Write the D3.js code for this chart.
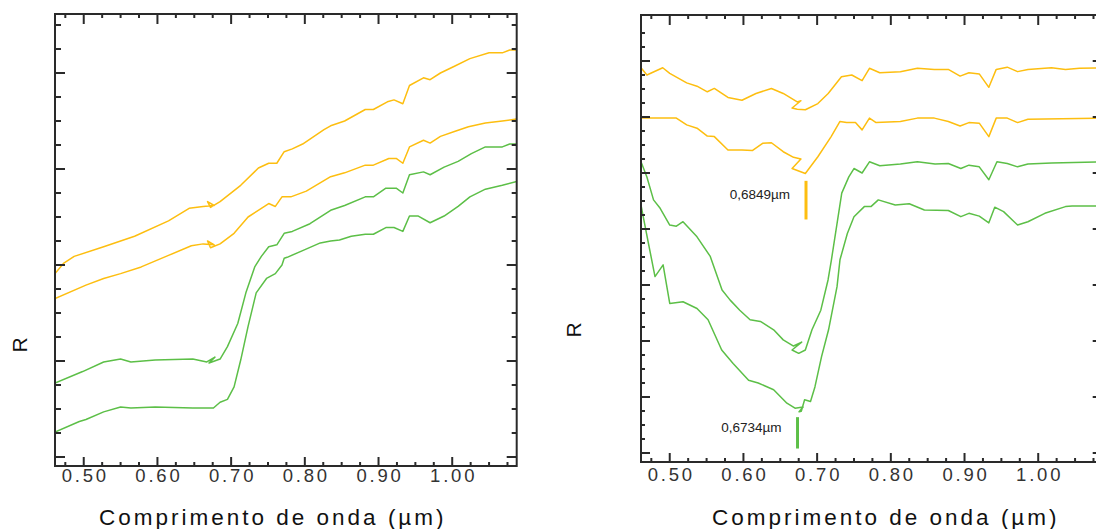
<!DOCTYPE html>
<html><head><meta charset="utf-8">
<script src="https://cdn.jsdelivr.net/npm/d3@7"></script>
<style>
html,body{margin:0;padding:0;background:#fff;}
text{font-family:"Liberation Sans",Arial,Helvetica,sans-serif;}
</style></head>
<body><div id="chart"></div>
<script>
// ---------- data ----------
const xMajorTicks = [0.50, 0.60, 0.70, 0.80, 0.90, 1.00];
const xTickLabels = ["0.50", "0.60", "0.70", "0.80", "0.90", "1.00"];
const xTitle = "Comprimento de onda (\u00B5m)";
const yTitle = "R";

// left panel: reflectance spectra [wavelength (µm), R]
const leftYellow1 = [[0.461,0.291],[0.473,0.302],[0.487,0.309],[0.527,0.319],[0.569,0.330],[0.615,0.346],[0.643,0.359],[0.662,0.361],[0.677,0.362],[0.668,0.366],[0.672,0.360],[0.685,0.366],[0.713,0.383],[0.737,0.401],[0.751,0.406],[0.762,0.406],[0.772,0.418],[0.783,0.421],[0.797,0.426],[0.826,0.441],[0.835,0.445],[0.854,0.450],[0.882,0.462],[0.893,0.462],[0.912,0.470],[0.921,0.472],[0.933,0.468],[0.942,0.487],[0.961,0.495],[0.970,0.493],[0.984,0.500],[1.003,0.507],[1.024,0.515],[1.050,0.521],[1.068,0.521],[1.078,0.524],[1.0875,0.524]];
const leftYellow2 = [[0.461,0.265],[0.503,0.279],[0.527,0.286],[0.550,0.291],[0.578,0.298],[0.615,0.310],[0.646,0.320],[0.662,0.322],[0.677,0.321],[0.668,0.325],[0.672,0.318],[0.685,0.322],[0.704,0.333],[0.723,0.350],[0.751,0.364],[0.760,0.361],[0.769,0.371],[0.781,0.371],[0.802,0.377],[0.835,0.392],[0.854,0.396],[0.882,0.404],[0.893,0.404],[0.914,0.411],[0.924,0.411],[0.933,0.406],[0.942,0.423],[0.961,0.430],[0.970,0.427],[0.984,0.434],[1.003,0.439],[1.022,0.444],[1.045,0.448],[1.068,0.450],[1.0875,0.452]];
const leftGreen1 = [[0.461,0.177],[0.4985,0.189],[0.527,0.199],[0.550,0.202],[0.564,0.199],[0.597,0.201],[0.648,0.202],[0.667,0.199],[0.678,0.204],[0.670,0.198],[0.685,0.202],[0.695,0.215],[0.709,0.239],[0.720,0.271],[0.732,0.298],[0.741,0.309],[0.751,0.319],[0.762,0.321],[0.772,0.333],[0.783,0.335],[0.807,0.343],[0.835,0.357],[0.854,0.362],[0.882,0.371],[0.893,0.371],[0.910,0.380],[0.924,0.380],[0.933,0.375],[0.942,0.394],[0.961,0.397],[0.970,0.394],[0.989,0.402],[1.008,0.408],[1.026,0.416],[1.045,0.423],[1.068,0.423],[1.078,0.426],[1.0875,0.426]];
const leftGreen2 = [[0.461,0.126],[0.494,0.137],[0.503,0.139],[0.527,0.147],[0.550,0.152],[0.564,0.151],[0.597,0.152],[0.648,0.151],[0.676,0.151],[0.685,0.157],[0.695,0.160],[0.704,0.173],[0.713,0.201],[0.723,0.236],[0.734,0.271],[0.748,0.286],[0.760,0.291],[0.769,0.300],[0.772,0.307],[0.776,0.308],[0.797,0.315],[0.821,0.323],[0.835,0.325],[0.847,0.326],[0.863,0.330],[0.882,0.332],[0.893,0.332],[0.910,0.339],[0.921,0.339],[0.933,0.335],[0.942,0.351],[0.954,0.351],[0.970,0.344],[0.989,0.351],[1.008,0.361],[1.024,0.371],[1.045,0.379],[1.068,0.383],[1.0875,0.387]];

// right panel: continuum-removed spectra [wavelength (µm), R]
const rightYellow1 = [[0.461,0.888],[0.469,0.875],[0.4905,0.888],[0.500,0.878],[0.523,0.861],[0.537,0.855],[0.551,0.845],[0.5605,0.851],[0.579,0.835],[0.598,0.830],[0.617,0.842],[0.638,0.851],[0.654,0.842],[0.673,0.827],[0.678,0.829],[0.666,0.816],[0.673,0.814],[0.684,0.813],[0.701,0.824],[0.715,0.842],[0.733,0.872],[0.747,0.875],[0.761,0.865],[0.771,0.887],[0.785,0.879],[0.813,0.881],[0.836,0.887],[0.859,0.885],[0.878,0.885],[0.894,0.873],[0.906,0.879],[0.920,0.877],[0.933,0.853],[0.943,0.885],[0.958,0.889],[0.972,0.881],[0.986,0.885],[1.018,0.888],[1.037,0.885],[1.056,0.887],[1.0875,0.888]];
const rightYellow2 = [[0.461,0.798],[0.509,0.798],[0.523,0.786],[0.537,0.780],[0.551,0.766],[0.5605,0.765],[0.579,0.741],[0.598,0.741],[0.612,0.740],[0.626,0.753],[0.638,0.754],[0.654,0.738],[0.668,0.728],[0.678,0.725],[0.666,0.708],[0.684,0.699],[0.701,0.729],[0.719,0.765],[0.731,0.792],[0.740,0.790],[0.752,0.790],[0.761,0.777],[0.771,0.798],[0.780,0.790],[0.813,0.792],[0.836,0.798],[0.859,0.798],[0.878,0.792],[0.894,0.784],[0.906,0.790],[0.920,0.789],[0.933,0.765],[0.943,0.798],[0.958,0.798],[0.972,0.790],[0.986,0.796],[1.0875,0.798]];
const rightGreen1 = [[0.461,0.720],[0.469,0.693],[0.478,0.652],[0.487,0.637],[0.500,0.607],[0.509,0.605],[0.518,0.613],[0.537,0.586],[0.555,0.551],[0.571,0.491],[0.582,0.473],[0.595,0.455],[0.609,0.438],[0.623,0.435],[0.641,0.420],[0.654,0.402],[0.668,0.391],[0.679,0.398],[0.666,0.384],[0.675,0.378],[0.684,0.384],[0.693,0.420],[0.705,0.455],[0.7148,0.509],[0.7194,0.545],[0.7334,0.664],[0.743,0.693],[0.750,0.708],[0.761,0.700],[0.771,0.720],[0.785,0.713],[0.813,0.716],[0.836,0.720],[0.860,0.716],[0.878,0.717],[0.895,0.708],[0.906,0.714],[0.920,0.711],[0.933,0.688],[0.944,0.720],[0.958,0.717],[0.972,0.711],[0.986,0.716],[1.018,0.718],[1.0875,0.720]];
const rightGreen2 = [[0.461,0.643],[0.464,0.622],[0.471,0.575],[0.480,0.515],[0.491,0.536],[0.500,0.467],[0.518,0.470],[0.537,0.458],[0.552,0.438],[0.5705,0.384],[0.586,0.360],[0.607,0.330],[0.620,0.325],[0.641,0.313],[0.659,0.289],[0.670,0.280],[0.681,0.282],[0.6755,0.2735],[0.6785,0.2745],[0.683,0.295],[0.691,0.292],[0.697,0.318],[0.706,0.372],[0.7155,0.420],[0.727,0.497],[0.731,0.545],[0.741,0.592],[0.750,0.622],[0.764,0.640],[0.773,0.640],[0.783,0.652],[0.806,0.643],[0.825,0.645],[0.8455,0.634],[0.878,0.633],[0.895,0.622],[0.906,0.628],[0.920,0.623],[0.933,0.611],[0.941,0.639],[0.953,0.631],[0.972,0.607],[0.986,0.613],[1.009,0.628],[1.037,0.640],[1.046,0.641],[1.0875,0.641]];

// absorption minimum markers (right panel)
const markerWavelengths = [0.6849, 0.6734];
const markerLabels = ["0,6849\u00B5m", "0,6734\u00B5m"];
const markerRanges = [[0.617, 0.686], [0.208, 0.264]];

// ---------- layout / style ----------
const W = 1096, H = 529;
const YEL = "#fdbe10", GRN = "#5cbf47", INK = "#2a2a2a";
const svg = d3.select("#chart").append("svg").attr("width", W).attr("height", H);

const panels = [
  { left: 55, right: 516.7, top: 14, bottom: 466,
    yDomain: [0.1 - 9/960, 0.1 + 443/960], yTicks: d3.range(0.1, 0.5501, 0.025),
    series: [[leftYellow1, YEL], [leftYellow2, YEL], [leftGreen1, GRN], [leftGreen2, GRN]],
    labelY: 482, titleX: 99, rX: 19, rY: 345, markers: false,
    yMajorLen: 10, yMinorLen: 6 },
  { left: 641, right: 1102.7, top: 15, bottom: 462,
    yDomain: [0.2 - 9/560, 0.2 + 438/560], yTicks: d3.range(0.2, 0.9501, 0.025),
    series: [[rightYellow1, YEL], [rightYellow2, YEL], [rightGreen1, GRN], [rightGreen2, GRN]],
    labelY: 481, titleX: 712, rX: 573, rY: 330, markers: true,
    yMajorLen: 9, yMinorLen: 4 }
];

const xDomain = [0.461, 1.0875];
const xMinor = d3.range(0.475, 1.08, 0.025);
const isMajor = (v, step) => Math.abs(v / step - Math.round(v / step)) < 1e-6;

panels.forEach(p => {
  const x = d3.scaleLinear().domain(xDomain).range([p.left, p.right]);
  const y = d3.scaleLinear().domain(p.yDomain).range([p.bottom, p.top]);
  const g = svg.append("g");

  const clipId = "clip" + p.left;
  svg.append("clipPath").attr("id", clipId).append("rect")
    .attr("x", p.left).attr("y", p.top).attr("width", p.right - p.left).attr("height", p.bottom - p.top);

  const line = d3.line().x(d => x(d[0])).y(d => y(d[1]));
  p.series.forEach(([data, col]) => {
    g.append("path").datum(data).attr("d", line)
      .attr("fill", "none").attr("stroke", col).attr("stroke-width", 1.5)
      .attr("stroke-linejoin", "round").attr("clip-path", `url(#${clipId})`);
  });

  // ticks
  const tk = g.append("g").attr("stroke", INK).attr("stroke-width", 2);
  xMinor.forEach(v => {
    const maj = xMajorTicks.some(m => Math.abs(m - v) < 1e-6);
    const len = maj ? 9 : 4;
    tk.append("line").attr("x1", x(v)).attr("x2", x(v)).attr("y1", p.bottom).attr("y2", p.bottom - len);
    tk.append("line").attr("x1", x(v)).attr("x2", x(v)).attr("y1", p.top).attr("y2", p.top + (maj ? 10 : 4));
  });
  p.yTicks.forEach(v => {
    const maj = isMajor(v, 0.1);
    const len = maj ? p.yMajorLen : p.yMinorLen;
    tk.append("line").attr("x1", p.left).attr("x2", p.left + len).attr("y1", y(v)).attr("y2", y(v));
    tk.append("line").attr("x1", p.right).attr("x2", p.right - (maj ? 10 : 5)).attr("y1", y(v)).attr("y2", y(v));
  });

  // frame
  g.append("rect").attr("x", p.left).attr("y", p.top)
    .attr("width", p.right - p.left).attr("height", p.bottom - p.top)
    .attr("fill", "none").attr("stroke", INK).attr("stroke-width", 2);

  // tick labels
  xMajorTicks.forEach((v, i) => {
    g.append("text").attr("x", x(v)).attr("dx", 1.5).attr("y", p.labelY)
      .attr("text-anchor", "middle").attr("font-size", 18.5).attr("letter-spacing", "2.8px")
      .attr("fill", "#333").text(xTickLabels[i]);
  });

  // axis titles
  g.append("text").attr("x", p.titleX).attr("y", 525)
    .attr("font-size", 22.5).attr("letter-spacing", "3px").attr("fill", "#111").text(xTitle);
  g.append("text").attr("transform", `translate(${p.rX},${p.rY}) rotate(-90)`)
    .attr("text-anchor", "middle").attr("dy", "0.36em").attr("font-size", 21).attr("fill", "#111").text(yTitle);

  // markers
  if (p.markers) {
    markerWavelengths.forEach((w, i) => {
      const col = i === 0 ? YEL : GRN;
      const r = markerRanges[i];
      g.append("line").attr("x1", x(w)).attr("x2", x(w)).attr("y1", y(r[0])).attr("y2", y(r[1]))
        .attr("stroke", col).attr("stroke-width", 3);
      g.append("text").attr("x", x(w) - 16).attr("y", (y(r[0]) + y(r[1])) / 2 - 1)
        .attr("text-anchor", "end").attr("font-size", 13.5).attr("fill", "#222").text(markerLabels[i]);
    });
  }
});
</script></body></html>
